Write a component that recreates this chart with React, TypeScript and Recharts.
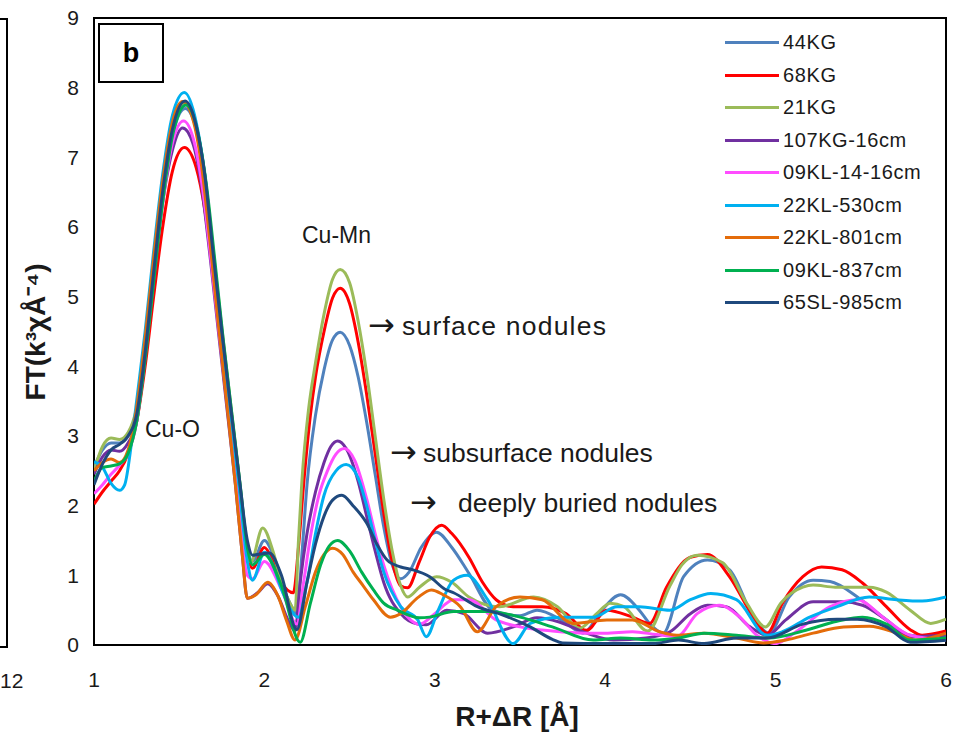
import React from 'react';
import { LineChart, Line, XAxis, YAxis, ReferenceArea } from 'recharts';

const X_TICKS = [1, 2, 3, 4, 5, 6];
const Y_TICKS = [0, 1, 2, 3, 4, 5, 6, 7, 8, 9];

const s44KG = [[1.0,2.55],[1.05,2.8],[1.1,2.9],[1.15,2.9],[1.2,3.0],[1.25,3.3],[1.3,4.2],[1.35,5.3],[1.4,6.4],[1.46,7.3],[1.535,7.7],[1.6,7.4],[1.65,6.7],[1.7,5.6],[1.75,4.5],[1.8,3.45],[1.85,2.4],[1.9,1.4],[1.93,1.2],[2.0,1.5],[2.05,1.3],[2.1,0.9],[2.15,0.6],[2.19,0.45],[2.22,1.3],[2.25,2.3],[2.3,3.3],[2.35,3.95],[2.4,4.38],[2.445,4.49],[2.5,4.3],[2.55,3.85],[2.6,3.2],[2.65,2.45],[2.7,1.7],[2.75,1.15],[2.8,0.95],[2.85,1.05],[2.92,1.4],[3.01,1.62],[3.1,1.4],[3.2,1.03],[3.34,0.5],[3.5,0.42],[3.6,0.5],[3.75,0.35],[3.87,0.17],[3.98,0.5],[4.09,0.72],[4.2,0.5],[4.26,0.31],[4.34,0.17],[4.46,0.98],[4.6,1.22],[4.73,1.08],[4.87,0.4],[4.96,0.17],[5.08,0.69],[5.22,0.93],[5.32,0.91],[5.48,0.69],[5.63,0.4],[5.79,0.14],[5.9,0.12],[6.0,0.14]];
const s68KG = [[1.0,2.02],[1.05,2.2],[1.1,2.35],[1.15,2.5],[1.2,2.75],[1.25,3.2],[1.3,4.0],[1.35,5.0],[1.4,5.95],[1.46,6.8],[1.53,7.14],[1.6,6.85],[1.65,6.25],[1.7,5.3],[1.75,4.3],[1.8,3.3],[1.85,2.3],[1.9,1.3],[1.93,1.1],[2.0,1.4],[2.05,1.2],[2.1,0.9],[2.17,0.75],[2.2,1.4],[2.23,2.3],[2.27,3.3],[2.3,3.85],[2.35,4.5],[2.4,4.98],[2.445,5.12],[2.5,4.9],[2.55,4.35],[2.6,3.6],[2.65,2.75],[2.7,1.9],[2.75,1.2],[2.8,0.85],[2.84,0.82],[2.91,1.2],[2.97,1.55],[3.04,1.72],[3.1,1.6],[3.2,1.26],[3.28,0.9],[3.36,0.65],[3.46,0.55],[3.63,0.55],[3.77,0.45],[3.89,0.21],[4.01,0.5],[4.16,0.4],[4.26,0.31],[4.36,0.83],[4.5,1.26],[4.6,1.3],[4.73,0.98],[4.87,0.4],[4.95,0.17],[5.04,0.6],[5.16,0.98],[5.27,1.12],[5.39,1.08],[5.51,0.89],[5.65,0.55],[5.79,0.22],[5.86,0.14],[6.0,0.2]];
const s21KG = [[1.0,2.5],[1.05,2.85],[1.1,2.97],[1.15,2.95],[1.2,3.05],[1.25,3.4],[1.3,4.2],[1.35,5.3],[1.4,6.4],[1.46,7.35],[1.535,7.78],[1.6,7.45],[1.65,6.75],[1.7,5.65],[1.75,4.55],[1.8,3.5],[1.85,2.45],[1.9,1.4],[1.92,1.19],[1.99,1.68],[2.05,1.35],[2.1,0.9],[2.15,0.6],[2.18,0.5],[2.2,1.5],[2.22,2.35],[2.26,3.4],[2.3,4.05],[2.35,4.75],[2.4,5.25],[2.445,5.39],[2.5,5.2],[2.55,4.65],[2.6,3.9],[2.65,3.0],[2.7,2.1],[2.75,1.35],[2.8,0.85],[2.84,0.69],[2.91,0.83],[3.01,0.98],[3.1,0.9],[3.2,0.69],[3.38,0.55],[3.58,0.69],[3.72,0.55],[3.85,0.24],[3.95,0.45],[4.03,0.6],[4.11,0.55],[4.25,0.2],[4.38,0.85],[4.45,1.15],[4.54,1.29],[4.69,1.18],[4.83,0.6],[4.94,0.26],[5.03,0.6],[5.16,0.83],[5.22,0.86],[5.35,0.83],[5.55,0.83],[5.65,0.76],[5.79,0.5],[5.91,0.31],[6.0,0.37]];
const s107KG = [[1.0,2.45],[1.05,2.7],[1.1,2.8],[1.15,2.78],[1.2,2.9],[1.25,3.2],[1.3,4.2],[1.35,5.3],[1.4,6.3],[1.46,7.1],[1.52,7.42],[1.58,7.2],[1.63,6.6],[1.68,5.6],[1.73,4.5],[1.78,3.4],[1.83,2.3],[1.87,1.3],[1.9,0.67],[1.96,0.75],[2.02,0.88],[2.08,0.7],[2.14,0.35],[2.18,0.2],[2.21,0.9],[2.25,1.6],[2.3,2.2],[2.35,2.62],[2.39,2.85],[2.43,2.93],[2.48,2.82],[2.55,2.35],[2.6,1.85],[2.65,1.35],[2.7,0.9],[2.8,0.45],[2.9,0.3],[2.95,0.29],[3.07,0.5],[3.17,0.45],[3.31,0.17],[3.46,0.26],[3.6,0.39],[3.73,0.33],[3.89,0.17],[4.05,0.07],[4.24,0.1],[4.38,0.19],[4.5,0.45],[4.6,0.57],[4.71,0.55],[4.85,0.26],[4.95,0.14],[5.06,0.36],[5.22,0.62],[5.39,0.62],[5.51,0.57],[5.65,0.36],[5.79,0.12],[6.0,0.14]];
const s09KL14 = [[1.0,2.17],[1.05,2.3],[1.1,2.45],[1.15,2.58],[1.2,2.75],[1.25,3.2],[1.3,4.15],[1.35,5.25],[1.4,6.3],[1.46,7.2],[1.525,7.52],[1.59,7.2],[1.64,6.5],[1.69,5.45],[1.74,4.35],[1.79,3.3],[1.84,2.2],[1.9,1.0],[1.93,0.95],[2.0,1.2],[2.1,0.8],[2.19,0.3],[2.23,0.9],[2.27,1.55],[2.32,2.15],[2.37,2.5],[2.42,2.74],[2.47,2.82],[2.53,2.65],[2.6,2.1],[2.65,1.6],[2.7,1.15],[2.8,0.55],[2.91,0.3],[3.0,0.45],[3.11,0.65],[3.2,0.65],[3.36,0.36],[3.5,0.26],[3.69,0.2],[3.89,0.17],[4.0,0.17],[4.16,0.19],[4.3,0.15],[4.42,0.12],[4.54,0.45],[4.67,0.57],[4.79,0.4],[4.89,0.14],[5.0,0.02],[5.12,0.19],[5.32,0.55],[5.48,0.65],[5.63,0.4],[5.79,0.14],[6.0,0.07]];
const s22KL530 = [[1.0,2.63],[1.05,2.55],[1.1,2.32],[1.15,2.22],[1.18,2.3],[1.22,2.9],[1.25,3.5],[1.3,4.5],[1.35,5.65],[1.4,6.7],[1.46,7.6],[1.53,7.93],[1.6,7.5],[1.65,6.75],[1.7,5.55],[1.75,4.4],[1.8,3.35],[1.85,2.3],[1.9,1.2],[1.93,0.93],[2.0,1.33],[2.05,1.15],[2.1,0.8],[2.2,0.4],[2.25,0.9],[2.3,1.6],[2.35,2.15],[2.42,2.5],[2.48,2.59],[2.55,2.4],[2.6,2.0],[2.65,1.5],[2.7,1.05],[2.8,0.55],[2.9,0.36],[2.95,0.12],[3.02,0.5],[3.11,0.93],[3.19,1.0],[3.31,0.65],[3.46,0.02],[3.56,0.31],[3.73,0.4],[3.93,0.4],[4.07,0.55],[4.2,0.55],[4.38,0.5],[4.5,0.65],[4.62,0.74],[4.77,0.65],[4.95,0.14],[5.04,0.19],[5.2,0.4],[5.36,0.55],[5.55,0.69],[5.71,0.65],[5.86,0.63],[6.0,0.69]];
const s22KL801 = [[1.0,2.5],[1.05,2.62],[1.1,2.67],[1.15,2.62],[1.2,2.8],[1.25,3.4],[1.3,4.4],[1.35,5.55],[1.4,6.6],[1.46,7.5],[1.52,7.8],[1.58,7.55],[1.63,6.9],[1.68,5.8],[1.73,4.6],[1.78,3.45],[1.83,2.3],[1.87,1.3],[1.9,0.67],[1.95,0.72],[2.02,0.9],[2.08,0.7],[2.13,0.35],[2.18,0.07],[2.24,0.55],[2.3,1.05],[2.35,1.3],[2.4,1.39],[2.46,1.3],[2.52,1.05],[2.58,0.85],[2.64,0.65],[2.74,0.4],[2.8,0.45],[2.9,0.68],[2.98,0.79],[3.05,0.72],[3.15,0.55],[3.25,0.19],[3.36,0.55],[3.5,0.69],[3.63,0.65],[3.81,0.31],[4.01,0.36],[4.16,0.36],[4.32,0.19],[4.42,0.14],[4.58,0.17],[4.77,0.1],[4.93,0.03],[5.06,0.07],[5.22,0.17],[5.4,0.26],[5.55,0.27],[5.71,0.17],[5.82,0.07],[6.0,0.17]];
const s09KL837 = [[1.0,2.35],[1.05,2.55],[1.1,2.57],[1.15,2.6],[1.2,2.75],[1.25,3.2],[1.3,4.1],[1.35,5.2],[1.4,6.3],[1.46,7.3],[1.54,7.75],[1.61,7.35],[1.66,6.6],[1.71,5.5],[1.76,4.35],[1.81,3.3],[1.86,2.25],[1.9,1.4],[1.93,1.15],[2.0,1.3],[2.1,0.85],[2.21,0.04],[2.27,0.6],[2.33,1.15],[2.38,1.42],[2.43,1.5],[2.5,1.35],[2.57,1.05],[2.64,0.79],[2.7,0.6],[2.78,0.5],[2.91,0.39],[2.97,0.4],[3.11,0.48],[3.31,0.48],[3.5,0.4],[3.69,0.26],[3.93,0.07],[4.09,0.1],[4.28,0.07],[4.43,0.1],[4.58,0.17],[4.77,0.14],[4.96,0.1],[5.16,0.2],[5.36,0.34],[5.51,0.4],[5.65,0.3],[5.79,0.07],[6.0,0.1]];
const s65SL = [[1.0,2.3],[1.05,2.6],[1.1,2.8],[1.15,2.88],[1.2,3.0],[1.25,3.3],[1.3,4.2],[1.35,5.35],[1.4,6.45],[1.46,7.4],[1.535,7.81],[1.6,7.45],[1.65,6.75],[1.7,5.6],[1.75,4.5],[1.8,3.45],[1.85,2.45],[1.9,1.5],[1.93,1.29],[2.03,1.32],[2.1,1.0],[2.19,0.22],[2.25,0.9],[2.3,1.45],[2.35,1.85],[2.4,2.08],[2.455,2.15],[2.52,2.0],[2.6,1.75],[2.66,1.45],[2.72,1.22],[2.8,1.12],[2.87,1.08],[2.97,0.98],[3.06,0.8],[3.11,0.75],[3.25,0.55],[3.4,0.43],[3.56,0.26],[3.69,0.08],[3.75,0.03],[4.0,0.02],[4.28,0.02],[4.43,0.07],[4.58,0.02],[4.77,0.1],[4.95,0.1],[5.16,0.3],[5.36,0.37],[5.48,0.37],[5.65,0.26],[5.79,0.04],[6.0,0.07]];

const SERIES_NAMES = ['44KG', '68KG', '21KG', '107KG-16cm', '09KL-14-16cm', '22KL-530cm', '22KL-801cm', '09KL-837cm', '65SL-985cm'];
const SERIES_COLORS = ['#4F81BD', '#FF0000', '#9BBB59', '#7030A0', '#FF4DFF', '#00B0F0', '#E46C0A', '#00B050', '#1F497D'];
const SERIES_VALUES = [s44KG, s68KG, s21KG, s107KG, s09KL14, s22KL530, s22KL801, s09KL837, s65SL];

const series = SERIES_NAMES.map((name, i) => ({
  name,
  color: SERIES_COLORS[i],
  data: SERIES_VALUES[i].map(([x, y]) => ({ x, y })),
}));

const FONT = 'Arial, "Liberation Sans", sans-serif';
const ARROW_FONT = '"DejaVu Sans", sans-serif';
const TXT = '#1a1a1a';

const abs = (extra: React.CSSProperties): React.CSSProperties => ({
  position: 'absolute',
  whiteSpace: 'nowrap',
  fontFamily: FONT,
  color: TXT,
  lineHeight: 1,
  ...extra,
});

export default function App() {
  return (
    <div style={{ position: 'absolute', left: 0, top: 0, width: 954, height: 737, background: '#fff', overflow: 'hidden', fontFamily: FONT }}>
      <LineChart width={954} height={737} margin={{ top: 18, right: 8, bottom: 52, left: 34 }}>
        <XAxis
          type="number"
          dataKey="x"
          domain={[1, 6]}
          ticks={X_TICKS}
          tickLine={false}
          axisLine={false}
          tick={{ fontSize: 21, fill: TXT, fontFamily: FONT }}
          tickMargin={21}
          height={40}
          allowDataOverflow
        />
        <YAxis
          type="number"
          domain={[0, 9]}
          ticks={Y_TICKS}
          width={60}
          tickLine={false}
          axisLine={false}
          tick={{ fontSize: 21, fill: TXT, fontFamily: FONT }}
          tickMargin={9}
          allowDataOverflow
        />
        {series.map((s) => (
          <Line
            key={s.name}
            data={s.data}
            dataKey="y"
            name={s.name}
            type="monotone"
            stroke={s.color}
            strokeWidth={3}
            dot={false}
            activeDot={false}
            isAnimationActive={false}
          />
        ))}
        <ReferenceArea x1={1} x2={6} y1={0} y2={9} fill="none" stroke="#000" strokeWidth={2} ifOverflow="visible" />
      </LineChart>

      {/* fragment of neighbouring panel */}
      <div style={{ position: 'absolute', left: -12, top: 18, width: 16, height: 626, border: '2px solid #000' }} />
      <div style={abs({ left: 0, top: 670, fontSize: 21 })}>12</div>

      {/* panel label */}
      <div style={{ position: 'absolute', left: 98, top: 23, width: 62, height: 56, border: '2px solid #000', display: 'flex', alignItems: 'center', justifyContent: 'center', fontFamily: FONT, fontWeight: 700, fontSize: 27, color: '#000', background: '#fff' }}>b</div>

      {/* legend */}
      {series.map((s, i) => (
        <div key={s.name} style={{ position: 'absolute', left: 725, top: 42.7 + i * 32.5 - 12, height: 24, display: 'flex', alignItems: 'center' }}>
          <div style={{ width: 54, height: 3, background: s.color }} />
          <div style={{ marginLeft: 4, fontFamily: FONT, fontSize: 20, letterSpacing: 0.6, color: TXT, whiteSpace: 'nowrap' }}>{s.name}</div>
        </div>
      ))}

      {/* annotations */}
      <div style={abs({ left: 145, top: 418, fontSize: 23 })}>Cu-O</div>
      <div style={abs({ left: 302, top: 224, fontSize: 23 })}>Cu-Mn</div>
      <div style={abs({ left: 368, top: 309, fontSize: 32, fontFamily: ARROW_FONT })}>→</div>
      <div style={abs({ left: 402, top: 313, fontSize: 26.5, letterSpacing: 1.2 })}>surface nodules</div>
      <div style={abs({ left: 390, top: 436, fontSize: 32, fontFamily: ARROW_FONT })}>→</div>
      <div style={abs({ left: 423, top: 440, fontSize: 26.5 })}>subsurface nodules</div>
      <div style={abs({ left: 410, top: 486, fontSize: 32, fontFamily: ARROW_FONT })}>→</div>
      <div style={abs({ left: 458, top: 490, fontSize: 26.5 })}>deeply buried nodules</div>

      {/* axis titles */}
      <div style={abs({ left: 36, top: 332, fontSize: 28, fontWeight: 700, transform: 'translate(-50%, -50%) rotate(-90deg)' })}>FT(k³χÅ⁻⁴)</div>
      <div style={abs({ left: 517, top: 717, fontSize: 28, fontWeight: 700, transform: 'translate(-50%, -50%)' })}>R+ΔR [Å]</div>
    </div>
  );
}
